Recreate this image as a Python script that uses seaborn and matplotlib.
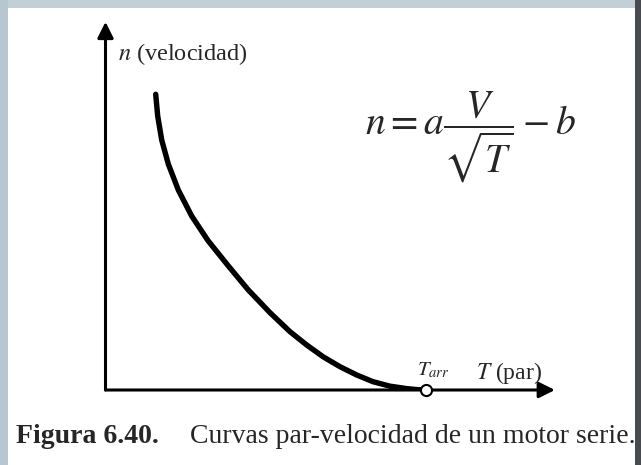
import matplotlib
matplotlib.use("Agg")
import matplotlib.pyplot as plt
from matplotlib.patches import Rectangle
import pandas as pd
import seaborn as sns

# Torque-speed curve of a series motor (arbitrary units, T_arr = 100)
torque = [15.64, 16.26, 17.51, 19.56, 22.68, 26.85, 31.93, 38.16, 44.39, 51.25,
          57.48, 62.68, 67.76, 73.05, 78.26, 83.33, 88.63, 93.83, 96.95, 100.0]
speed = [100.0, 92.66, 84.55, 76.43, 67.64, 58.84, 50.52, 42.10, 33.95, 26.14,
         19.72, 15.22, 11.26, 7.88, 5.07, 2.81, 1.29, 0.47, 0.14, 0.0]
t_arr = 100.0

y_label = r"$n$ (velocidad)"
x_label = r"$T$ (par)"
arr_label = r"$T_{arr}$"
formula = r"$n = a\dfrac{V}{\sqrt{T}} - b$"
caption_bold = "Figura 6.40."
caption_text = "Curvas par-velocidad de un motor serie."

sns.set_theme(style="white")
plt.rcParams["font.family"] = ["Liberation Serif", "DejaVu Serif"]
plt.rcParams["mathtext.fontset"] = "stix"

W, H = 641, 465
fig = plt.figure(figsize=(W / 100, H / 100), dpi=100)
fig.patch.set_facecolor("white")

# axes placed so the origin sits at the corner of the two arrows
x0, y0 = 105.5, 390.0
px_per_T, px_per_n = 3.21, 2.957
xmax, ymax = 140.0, 124.5
ax = fig.add_axes([x0 / W, (H - y0) / H, xmax * px_per_T / W, ymax * px_per_n / H])
ax.set_xlim(0, xmax)
ax.set_ylim(0, ymax)
ax.set_axis_off()

df = pd.DataFrame({"T": torque, "n": speed})
sns.lineplot(data=df, x="T", y="n", ax=ax, color="black", linewidth=3.9,
             sort=False, estimator=None, solid_capstyle="round",
             solid_joinstyle="round")

arrow = dict(arrowstyle="-|>,head_length=0.48,head_width=0.24", lw=2.2,
             color="black", mutation_scale=20, shrinkA=0, shrinkB=0)
ax.annotate("", xy=(xmax, 0), xytext=(0, 0), arrowprops=arrow,
            annotation_clip=False)
ax.annotate("", xy=(0, ymax), xytext=(0, 0), arrowprops=arrow,
            annotation_clip=False)

ax.plot([t_arr], [0], marker="o", markersize=8, markerfacecolor="white",
        markeredgecolor="black", markeredgewidth=1.5, clip_on=False, zorder=5)

ax.text(3.9, 111.6, y_label, fontsize=17.5, va="baseline", ha="left")
ax.text(115.4, 3.7, x_label, fontsize=17, va="baseline", ha="left")
ax.text(97.0, 5.1, arr_label, fontsize=15, va="baseline", ha="left")
ax.text(80.8, 85.6, formula, fontsize=28.5, va="center", ha="left")

fig.text(16 / W, 22 / H, caption_bold, fontsize=20, fontweight="bold",
         va="baseline", ha="left")
fig.text(190 / W, 22 / H, caption_text, fontsize=20, va="baseline", ha="left")

# page frame
fig.add_artist(Rectangle((0, 1 - 8 / H), 1, 8 / H, transform=fig.transFigure,
                         facecolor="#c3cfd6", edgecolor="none"))
fig.add_artist(Rectangle((0, 0), 8 / W, 1, transform=fig.transFigure,
                         facecolor="#b7c6d0", edgecolor="none"))
fig.add_artist(Rectangle((635 / W, 0), 6 / W, 1, transform=fig.transFigure,
                         facecolor="#474b4f", edgecolor="none"))

fig.savefig("out.png", dpi=100, facecolor="white")
